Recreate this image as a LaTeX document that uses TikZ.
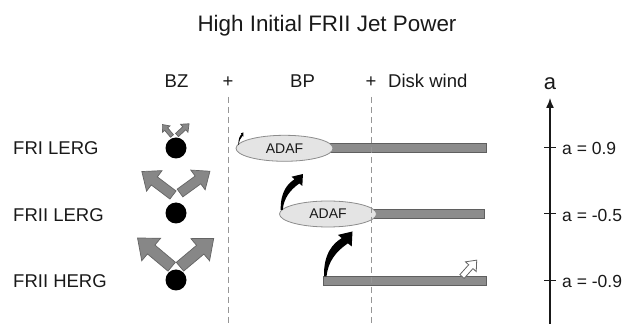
\documentclass[tikz,border=0pt]{standalone}
\usepackage{fontspec}
\setmainfont{Liberation Sans}
\usetikzlibrary{arrows.meta,shapes.geometric}

\definecolor{ink}{RGB}{25,25,25}
\definecolor{jetfill}{RGB}{135,135,135}
\definecolor{jetline}{RGB}{100,100,100}
\definecolor{diskfill}{RGB}{140,140,140}
\definecolor{diskline}{RGB}{95,95,95}
\definecolor{adaffill}{RGB}{228,228,228}
\definecolor{adafline}{RGB}{140,140,140}
\definecolor{divgray}{RGB}{150,150,150}

% block arrow: tail point, angle, length
\newcommand{\jetarrow}[4][jet]{%
  \filldraw[#1,shift={#2},rotate=#3,scale=#4] (0,-0.13) -- (0.6,-0.13) -- (0.6,-0.33) -- (1,0)
    -- (0.6,0.33) -- (0.6,0.13) -- (0,0.13) -- cycle;}
% black tapered arrow: tail point, xscale, yscale
\newcommand{\swoosh}[3]{%
  \fill[black,shift={#1},xscale=#2,yscale=#3] (-1,0) .. controls (-1.5,23) and (8,33) .. (16.7,38.4)
    -- (12.9,41.6) -- (27.5,45) -- (26.7,30) -- (22.9,33.2) .. controls (11,25) and (3,15) .. (1.5,0) -- cycle;}

\begin{document}
\begin{tikzpicture}[x=1pt,y=1pt,
  lbl/.style={inner sep=0pt,text=ink,font=\fontsize{18.5}{22}\selectfont},
  head/.style={lbl,anchor=base},
  row/.style={lbl,anchor=base west},
  ticklbl/.style={inner sep=0pt,text=ink,anchor=base west,font=\fontsize{17.5}{21}\selectfont},
  bh/.style={circle,fill=black,minimum size=21pt,inner sep=0pt},
  adaf/.style={ellipse,draw=adafline,fill=adaffill,line width=0.8pt,minimum width=97pt,minimum height=26pt,inner sep=0pt,text=ink,font=\fontsize{14}{16}\selectfont},
  disk/.style={draw=diskline,fill=diskfill,line width=0.7pt},
  jet/.style={draw=jetline,fill=jetfill,line width=0.7pt},
  hollow/.style={draw=jetline,fill=white,line width=0.8pt},
  divider/.style={draw=divgray,line width=0.9pt,dash pattern=on 6pt off 4pt},
  axis/.style={draw=ink,line width=1.4pt}]
\useasboundingbox (0,0) rectangle (627,324);

% title and column heads
\node[lbl,anchor=base,font=\fontsize{22.4}{26}\selectfont] (title) at (327,292) {High Initial FRII Jet Power};
\node[head] (bz) at (176.5,236) {BZ};
\node[head] (plusA) at (228,236) {+};
\node[head] (bp) at (302.5,236) {BP};
\node[head] (plusB) at (371,236) {+};
\node[row] (wind) at (388,236) {Disk wind};

% row labels
\node[row] (frilerg) at (13,169) {FRI LERG};
\node[row] (friilerg) at (13,102.5) {FRII LERG};
\node[row] (friiherg) at (13,36.3) {FRII HERG};

% disks
\coordinate (diskA) at (284.5,175.7);
\coordinate (diskB) at (328,110);
\draw[disk] ([yshift=-4.5pt]diskA) rectangle (486,180.2);
\draw[disk] ([yshift=-4.5pt]diskB) rectangle (484,114.5);
\draw[disk] (323,38.5) rectangle (486,47.5);
\node[adaf] (adafA) at (diskA) {ADAF};
\node[adaf] (adafB) at (diskB) {ADAF};

% black holes and BZ jets
\node[bh] (bhA) at (176,176) {};
\node[bh] (bhB) at (176,111) {};
\node[bh] (bhC) at (176,44) {};
\jetarrow{(172,188)}{130}{15}
\jetarrow{(177,189)}{43}{16.5}
\jetarrow{(173,129)}{143}{39}
\jetarrow{(180,131)}{36}{37}
\jetarrow{(171.7,57.3)}{140}{44.6}
\jetarrow{(180,57.3)}{40}{44}
\jetarrow[hollow]{(462,47.5)}{48}{22}

% dividers
\draw[divider] ([yshift=-9pt]plusA.base) -- (plusA.base |- 0,0);
\draw[divider] ([yshift=-9pt]plusB.base) -- (plusB.base |- 0,0);

% transitions
\swoosh{(325,47.5)}{1}{1}
\swoosh{(281.5,114)}{0.78}{0.8}
\swoosh{(238.5,179)}{0.18}{0.28}

% spin axis
\node[lbl,anchor=base,font=\fontsize{22}{26}\selectfont] (alabel) at (550,234) {a};
\coordinate (axbot) at (550,0);
\coordinate (axtop) at (550,226);
\draw[axis,-{Latex[length=10pt,width=8pt]}] (axbot) -- (axtop);
\foreach \y in {176,110,43}
  \draw[axis,line width=1pt] (544,\y) -- (556,\y);
\node[ticklbl] (spinA) at (562,169) {a = 0.9};
\node[ticklbl] (spinB) at (562,102.5) {a = -0.5};
\node[ticklbl] (spinC) at (562,36.3) {a = -0.9};
\end{tikzpicture}
\end{document}
